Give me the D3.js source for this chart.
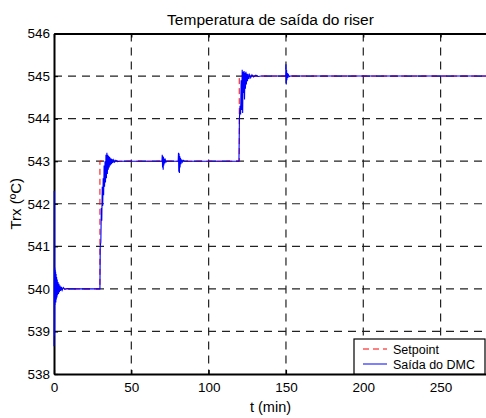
<!DOCTYPE html>
<html>
<head>
<meta charset="utf-8">
<script src="https://cdn.jsdelivr.net/npm/d3@7"></script>
<style>
  html, body { margin: 0; padding: 0; background: #fff; }
  svg { display: block; font-family: "Liberation Sans", Arial, sans-serif; }
</style>
</head>
<body>
<div id="chartArea"></div>
<script>
// tick values
const xTicks = [0, 50, 100, 150, 200, 250];
const yTicks = [538, 539, 540, 541, 542, 543, 544, 545, 546];

// setpoint (t, value)
const setpointT = [0, 29.7, 29.7, 119.8, 119.8, 280];
const setpointV = [540, 540, 543, 543, 545, 545];

// DMC output (t, value)
const dmcT = [
  0, 0.15, 0.3, 0.45, 0.6, 0.75, 0.9, 1.05, 1.2, 1.35, 1.5, 1.7, 1.9, 2.1, 2.3, 2.6, 2.9, 3.2, 3.5, 3.9, 4.3, 4.8, 5.3, 6, 7, 8.5, 10,
  29.7, 29.9, 30.3, 30.6, 30.9, 31.2, 31.5, 31.8, 32.1, 32.4, 32.7, 33.0, 33.3, 33.6, 33.9, 34.2, 34.5, 34.8, 35.1, 35.4, 35.7, 36.0, 36.4, 36.8, 37.2, 37.6, 38.1, 38.6, 39.2, 40, 41, 42.5,
  69.8, 70.0, 70.2, 70.4, 70.6, 70.8, 71.0, 71.3, 71.6, 72.0, 72.5, 73,
  80.3, 80.5, 80.7, 80.9, 81.1, 81.3, 81.5, 81.8, 82.1, 82.5, 83, 83.6, 84.3,
  119.6, 119.9, 120.3, 120.7, 121.0, 121.3, 121.7, 122.0, 122.3, 122.6, 122.9, 123.2, 123.5, 123.8, 124.1, 124.4, 124.7, 125.1, 125.5, 126.0, 126.5, 127.2, 128, 129, 130.5, 132, 134,
  149.8, 150.0, 150.2, 150.4, 150.6, 150.9, 151.2, 151.6, 152.2, 153, 280
];
const dmcV = [
  538.65, 542.3, 538.9, 540.5, 539.62, 540.45, 539.7, 540.4, 539.68, 540.35, 539.75, 540.28, 539.8, 540.22, 539.85, 540.16, 539.88, 540.12, 539.92, 540.08, 539.95, 540.05, 539.97, 540.03, 539.99, 540.01, 540,
  540, 541.0, 541.1, 541.9, 541.6, 542.4, 541.95, 542.6, 542.2, 542.9, 542.4, 543.0, 542.5, 543.15, 542.6, 543.2, 542.7, 543.15, 542.8, 543.12, 542.85, 543.1, 542.9, 543.07, 542.93, 543.05, 542.96, 543.03, 542.98, 543.02, 542.99, 543,
  543, 543.15, 542.85, 543.12, 542.8, 543.1, 542.9, 543.06, 542.95, 543.03, 542.98, 543,
  543, 543.2, 542.75, 543.18, 542.72, 543.12, 542.85, 543.08, 542.93, 543.04, 542.98, 543.02, 543,
  543, 544.0, 544.3, 544.1, 544.9, 544.2, 545.15, 544.13, 545.1, 544.6, 545.12, 544.45, 545.08, 544.7, 545.1, 544.8, 545.06, 544.88, 545.05, 544.93, 545.03, 544.96, 545.03, 544.98, 545.02, 544.99, 545,
  545, 545.28, 544.8, 545.15, 544.9, 545.07, 544.96, 545.03, 544.99, 545, 545
];

const width = 486;
const height = 418;
const margin = { top: 33.5, left: 54, bottom: 44, right: -1 };
const iwidth = width - margin.left - margin.right;
const iheight = height - margin.top - margin.bottom;
const font = '"Liberation Sans", Arial, sans-serif';

const svg = d3.select('#chartArea').append('svg')
  .attr('width', width)
  .attr('height', height);

const g = svg.append('g')
  .attr('transform', `translate(${margin.left},${margin.top})`);

const x = d3.scaleLinear().domain([0, 280]).range([0, iwidth]);
const y = d3.scaleLinear().domain([538, 546]).range([iheight, 0]);

// grid
g.append('g').selectAll('line').data(xTicks.filter((d) => d > 0))
  .enter().append('line')
  .attr('x1', (d) => x(d)).attr('x2', (d) => x(d))
  .attr('y1', 0).attr('y2', iheight)
  .attr('stroke', '#222').attr('stroke-width', 1.2)
  .attr('stroke-dasharray', '8,6');
g.append('g').selectAll('line').data(yTicks.filter((d) => d > 538 && d < 546))
  .enter().append('line')
  .attr('x1', 0).attr('x2', iwidth)
  .attr('y1', (d) => y(d)).attr('y2', (d) => y(d))
  .attr('stroke', '#222').attr('stroke-width', 1.2)
  .attr('stroke-dasharray', '8,6');

// axes
const xAxis = d3.axisBottom(x).tickValues(xTicks).tickSize(-4).tickPadding(8).tickSizeOuter(0);
const yAxis = d3.axisLeft(y).tickValues(yTicks).tickSize(-4).tickPadding(4).tickSizeOuter(0);

const gx = g.append('g').attr('transform', `translate(0,${iheight})`).call(xAxis);
const gy = g.append('g').call(yAxis);
const gt = g.append('g').call(d3.axisTop(x).tickValues(xTicks).tickSize(-4).tickSizeOuter(0).tickFormat(''));

[gx, gy, gt].forEach((a) => {
  a.select('.domain').attr('stroke', '#000').attr('stroke-width', 2);
  a.selectAll('.tick line').attr('stroke', '#000').attr('stroke-width', 1.2);
  a.selectAll('.tick text').attr('fill', '#000').style('font-size', '13.5px')
    .style('font-family', font);
});

// clip (slightly wider on the left so the trace covers the axis line)
svg.append('defs').append('clipPath').attr('id', 'clip')
  .append('rect').attr('x', -1.5).attr('width', iwidth + 1.5).attr('height', iheight);

const plot = g.append('g').attr('clip-path', 'url(#clip)');

const line = d3.line().x((d) => x(d[0])).y((d) => y(d[1]));

plot.append('path')
  .datum(setpointT.map((t, i) => [t, setpointV[i]]))
  .attr('d', line)
  .attr('fill', 'none')
  .attr('stroke', '#ff0000')
  .attr('stroke-width', 1)
  .attr('stroke-dasharray', '6,4');

plot.append('path')
  .datum(dmcT.map((t, i) => [t, dmcV[i]]))
  .attr('d', line)
  .attr('fill', 'none')
  .attr('stroke', '#0000ff')
  .attr('stroke-width', 1.1);

// title and labels
svg.append('text')
  .attr('x', margin.left + iwidth / 2).attr('y', 25)
  .attr('text-anchor', 'middle')
  .style('font-size', '15.5px')
  .text('Temperatura de saída do riser');

svg.append('text')
  .attr('x', margin.left + iwidth / 2).attr('y', 412)
  .attr('text-anchor', 'middle')
  .style('font-size', '14.5px')
  .text('t (min)');

svg.append('text')
  .attr('transform', `translate(21,${margin.top + iheight / 2}) rotate(-90)`)
  .attr('text-anchor', 'middle')
  .style('font-size', '15px')
  .text('Trx (ºC)');

// legend
const leg = g.append('g').attr('transform', `translate(${354 - margin.left},${339 - margin.top})`);
leg.append('rect')
  .attr('width', 131).attr('height', iheight - (339 - margin.top))
  .attr('fill', '#fff').attr('stroke', '#000').attr('stroke-width', 1.2);
const legItems = [
  { name: 'Setpoint', color: '#ff0000', dash: '6,4' },
  { name: 'Saída do DMC', color: '#0000ff', dash: null }
];
legItems.forEach((d, i) => {
  const yy = 10 + i * 15;
  leg.append('line')
    .attr('x1', 9).attr('x2', 33).attr('y1', yy).attr('y2', yy)
    .attr('stroke', d.color).attr('stroke-width', 1)
    .attr('stroke-dasharray', d.dash);
  leg.append('text')
    .attr('x', 39).attr('y', yy + 4.5)
    .style('font-size', '12.5px')
    .text(d.name);
});
</script>
</body>
</html>
